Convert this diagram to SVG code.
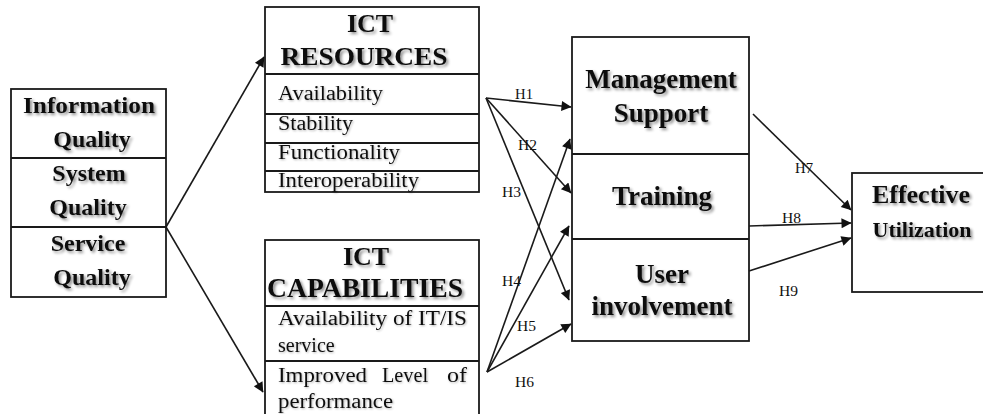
<svg xmlns="http://www.w3.org/2000/svg" width="983" height="414" viewBox="0 0 983 414">
  <style>
    .box { fill: #fff; stroke: #1a1a1a; stroke-width: 1.8; }
    .div { stroke: #1a1a1a; stroke-width: 1.8; }
    .hd { font-family: "Liberation Serif", "Times New Roman", serif; font-weight: bold; fill: #111; text-anchor: middle; filter: url(#soft); }
    .it { font-family: "Liberation Serif", "Times New Roman", serif; font-size: 20px; fill: #111; filter: url(#softer); }
    .lbl { font-family: "Liberation Serif", "Times New Roman", serif; font-size: 14px; fill: #111; }
    .con { stroke: #1a1a1a; stroke-width: 1.6; fill: none; marker-end: url(#arr); }
  </style>
  <defs>
    <marker id="arr" viewBox="0 0 10 10" refX="9.5" refY="5" markerWidth="13" markerHeight="10" orient="auto" markerUnits="userSpaceOnUse">
      <path d="M0,0 L10,5 L0,10 Z" fill="#111"/>
    </marker>
    <filter id="soft" x="-10%" y="-20%" width="125%" height="150%">
      <feGaussianBlur in="SourceAlpha" stdDeviation="1.4"/>
      <feOffset dx="1.5" dy="1.5"/>
      <feComponentTransfer><feFuncA type="linear" slope="0.45"/></feComponentTransfer>
      <feMerge><feMergeNode/><feMergeNode in="SourceGraphic"/></feMerge>
    </filter>
    <filter id="softer" x="-10%" y="-20%" width="125%" height="150%">
      <feGaussianBlur in="SourceAlpha" stdDeviation="1.1"/>
      <feOffset dx="1" dy="1"/>
      <feComponentTransfer><feFuncA type="linear" slope="0.3"/></feComponentTransfer>
      <feMerge><feMergeNode/><feMergeNode in="SourceGraphic"/></feMerge>
    </filter>
  </defs>

  <!-- quality dimensions -->
  <g id="quality">
    <rect class="box" x="11" y="89" width="155" height="208"/>
    <line class="div" x1="11" y1="158" x2="166" y2="158"/>
    <line class="div" x1="11" y1="227" x2="166" y2="227"/>
    <text class="hd" font-size="24" x="89" y="113" textLength="132" lengthAdjust="spacingAndGlyphs">Information</text>
    <text class="hd" font-size="24" x="92" y="147">Quality</text>
    <text class="hd" font-size="24" x="89" y="181">System</text>
    <text class="hd" font-size="24" x="88" y="215">Quality</text>
    <text class="hd" font-size="24" x="88" y="251">Service</text>
    <text class="hd" font-size="24" x="92" y="285">Quality</text>
  </g>

  <!-- ICT resources -->
  <g id="ict-resources">
    <rect class="box" x="265" y="7" width="214" height="185"/>
    <line class="div" x1="265" y1="74" x2="479" y2="74"/>
    <line class="div" x1="265" y1="114" x2="479" y2="114"/>
    <line class="div" x1="265" y1="143" x2="479" y2="143"/>
    <line class="div" x1="265" y1="171" x2="479" y2="171"/>
    <text class="hd" font-size="26" x="370" y="32">ICT</text>
    <text class="hd" font-size="26" x="364" y="65" textLength="167" lengthAdjust="spacingAndGlyphs">RESOURCES</text>
    <text class="it" x="278" y="100" textLength="105" lengthAdjust="spacingAndGlyphs">Availability</text>
    <text class="it" x="278" y="130" textLength="75" lengthAdjust="spacingAndGlyphs">Stability</text>
    <text class="it" x="278" y="159" textLength="122" lengthAdjust="spacingAndGlyphs">Functionality</text>
    <text class="it" x="278" y="187" textLength="141" lengthAdjust="spacingAndGlyphs">Interoperability</text>
  </g>

  <!-- ICT capabilities -->
  <g id="ict-capabilities">
    <rect class="box" x="265" y="240" width="214" height="190"/>
    <line class="div" x1="265" y1="306" x2="479" y2="306"/>
    <line class="div" x1="265" y1="361" x2="479" y2="361"/>
    <text class="hd" font-size="26" x="366" y="265">ICT</text>
    <text class="hd" font-size="27" x="365" y="297" textLength="196" lengthAdjust="spacingAndGlyphs">CAPABILITIES</text>
    <text class="it" x="278" y="325" textLength="189" lengthAdjust="spacingAndGlyphs">Availability of IT/IS</text>
    <text class="it" x="278" y="352">service</text>
    <!-- justified line: words placed individually -->
    <text class="it" x="278" y="382" textLength="89" lengthAdjust="spacingAndGlyphs">Improved</text>
    <text class="it" x="382" y="382" textLength="46" lengthAdjust="spacingAndGlyphs">Level</text>
    <text class="it" x="447" y="382" textLength="20" lengthAdjust="spacingAndGlyphs">of</text>
    <text class="it" x="278" y="408" textLength="115" lengthAdjust="spacingAndGlyphs">performance</text>
  </g>

  <!-- mediating factors -->
  <g id="mediators">
    <rect class="box" x="572" y="37" width="177" height="304"/>
    <line class="div" x1="572" y1="154" x2="749" y2="154"/>
    <line class="div" x1="572" y1="239" x2="749" y2="239"/>
  </g>
  <g id="management-support">
    <text class="hd" font-size="27" x="661" y="88">Management</text>
    <text class="hd" font-size="27" x="661" y="122">Support</text>
  </g>
  <g id="training">
    <text class="hd" font-size="27" x="662" y="205">Training</text>
  </g>
  <g id="user-involvement">
    <text class="hd" font-size="27" x="662" y="283">User</text>
    <text class="hd" font-size="27" x="662" y="315">involvement</text>
  </g>

  <!-- outcome -->
  <g id="effective-utilization">
    <rect class="box" x="852" y="173" width="135" height="119"/>
    <text class="hd" font-size="26" x="921" y="203">Effective</text>
    <text class="hd" font-size="22" x="922" y="237">Utilization</text>
  </g>

  <!-- connectors -->
  <g id="connectors">
    <line class="con" x1="166" y1="227" x2="264" y2="57"/>
    <line class="con" x1="166" y1="227" x2="263" y2="392"/>

    <line class="con" x1="486" y1="98" x2="571" y2="107"/>
    <line class="con" x1="486" y1="98" x2="571" y2="193"/>
    <line class="con" x1="486" y1="98" x2="569" y2="300"/>
    <line class="con" x1="487" y1="372" x2="570" y2="139"/>
    <line class="con" x1="487" y1="372" x2="569" y2="226"/>
    <line class="con" x1="487" y1="372" x2="571" y2="324"/>

    <line class="con" x1="753" y1="114" x2="851" y2="210"/>
    <line class="con" x1="749" y1="226" x2="851" y2="223"/>
    <line class="con" x1="749" y1="271" x2="851" y2="238"/>

    <text class="lbl" x="515" y="99" textLength="18" lengthAdjust="spacingAndGlyphs">H1</text>
    <text class="lbl" x="518" y="150" textLength="19" lengthAdjust="spacingAndGlyphs">H2</text>
    <text class="lbl" x="502" y="197" textLength="19" lengthAdjust="spacingAndGlyphs">H3</text>
    <text class="lbl" x="502" y="286" textLength="19" lengthAdjust="spacingAndGlyphs">H4</text>
    <text class="lbl" x="517" y="331" textLength="19" lengthAdjust="spacingAndGlyphs">H5</text>
    <text class="lbl" x="515" y="387" textLength="19" lengthAdjust="spacingAndGlyphs">H6</text>
    <text class="lbl" x="795" y="173" textLength="18" lengthAdjust="spacingAndGlyphs">H7</text>
    <text class="lbl" x="782" y="223" textLength="19" lengthAdjust="spacingAndGlyphs">H8</text>
    <text class="lbl" x="779" y="296" textLength="19" lengthAdjust="spacingAndGlyphs">H9</text>
  </g>
</svg>
